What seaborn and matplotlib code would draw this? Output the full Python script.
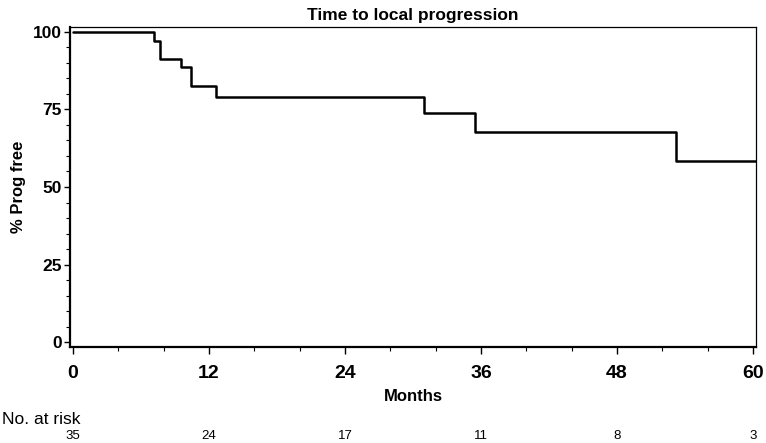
import numpy as np
import pandas as pd
import matplotlib
matplotlib.use('Agg')
import matplotlib.pyplot as plt
import matplotlib.transforms as mtransforms
from matplotlib.ticker import MultipleLocator
import seaborn as sns

# Kaplan-Meier steps
months = [0, 7.15, 7.7, 9.5, 10.4, 12.6, 30.95, 35.5, 53.2, 60.5]
prog_free = [100, 97.1, 91.4, 88.6, 82.6, 78.9, 73.9, 67.7, 58.3, 58.3]

# numbers at risk
risk_months = [0, 12, 24, 36, 48, 60]
at_risk = [35, 24, 17, 11, 8, 3]

sns.set_style('ticks', rc={'axes.edgecolor': 'black', 'text.color': 'black',
                           'axes.labelcolor': 'black', 'xtick.color': 'black',
                           'ytick.color': 'black'})
plt.rcParams['font.family'] = ['Liberation Sans', 'DejaVu Sans']

df = pd.DataFrame({'Months': months, 'Prog': prog_free})

fig = plt.figure(figsize=(7.66, 4.43), dpi=100)
ax = fig.add_axes([70 / 766, 1 - 347 / 443, 686 / 766, 320 / 443])

sns.lineplot(data=df, x='Months', y='Prog', drawstyle='steps-post', estimator=None,
             color='black', linewidth=1.8, ax=ax)

ax.set_xlim(-0.27, 60.28)
ax.set_ylim(-1.6, 101.6)
ax.set_xticks(risk_months)
ax.set_yticks([0, 25, 50, 75, 100])
ax.xaxis.set_minor_locator(MultipleLocator(4))
ax.yaxis.set_minor_locator(MultipleLocator(5))

for s in ['left', 'bottom']:
    ax.spines[s].set_linewidth(1.6)
for s in ['top', 'right']:
    ax.spines[s].set_linewidth(0.9)
    ax.spines[s].set_visible(True)

ax.tick_params(axis='x', which='major', length=5, width=1, pad=8, labelsize=14)
ax.tick_params(axis='y', which='major', length=4, width=1, pad=2, labelsize=12.5)
ax.tick_params(which='minor', length=3, width=0.8)
for lab in ax.get_xticklabels() + ax.get_yticklabels():
    lab.set_fontweight('bold')

ax.set_xlabel('Months', fontsize=12, fontweight='bold', labelpad=5)
ax.set_ylabel('% Prog free', fontsize=12, fontweight='bold', labelpad=5)
ax.set_title('Time to local progression', fontsize=12.5, fontweight='bold', pad=5)

# at-risk table
fig.text(2 / 766, 1 - 420 / 443, 'No. at risk', fontsize=12.5, ha='left', va='center')
trans = mtransforms.blended_transform_factory(ax.transData, fig.transFigure)
for m, n in zip(risk_months, at_risk):
    ax.text(m, 1 - 436 / 443, str(n), transform=trans, fontsize=9.5,
            ha='center', va='center', clip_on=False)

fig.savefig('out.png', dpi=100)
